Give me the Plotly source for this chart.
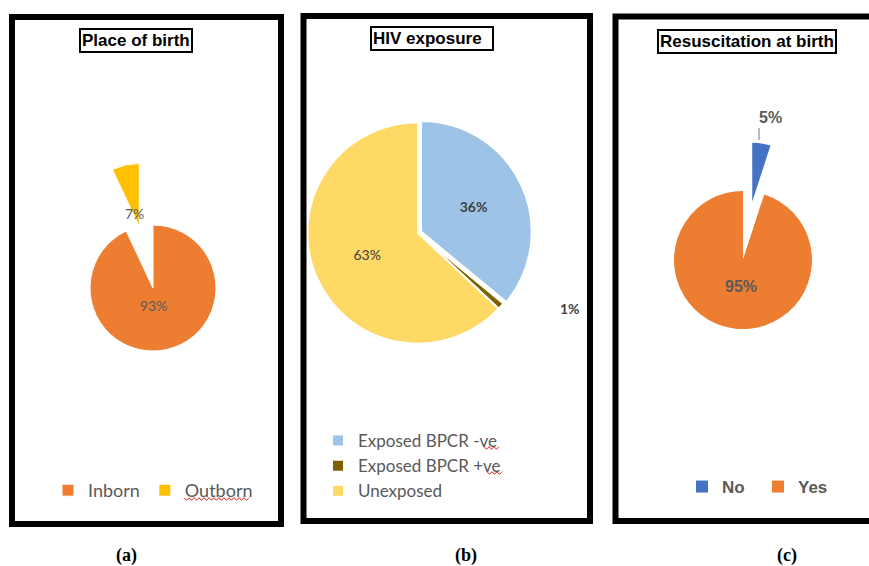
import plotly.graph_objects as go

W, H = 869, 566

# ---- data -------------------------------------------------------------
birth_labels = ["Inborn", "Outborn"]
birth_values = [93, 7]

hiv_labels = ["Exposed BPCR -ve", "Exposed BPCR +ve", "Unexposed"]
hiv_values = [36, 1, 63]

resus_labels = ["No", "Yes"]
resus_values = [5, 95]

panel_titles = ["Place of birth", "HIV exposure", "Resuscitation at birth"]
panel_tags = ["(a)", "(b)", "(c)"]

# ---- style ------------------------------------------------------------
ORANGE = "#ED7D31"
GOLD = "#FFC000"
LIGHT_BLUE = "#9DC3E6"
BROWN = "#7F6000"
LIGHT_GOLD = "#FFD966"
BLUE = "#4472C4"
CLEAR = "rgba(0,0,0,0)"
GREY = "#595959"
DARK = "#404040"
BODY_FONT = "Lato"
HEAD_FONT = "Liberation Sans"


def px(x):
    return x / W


def py(y):
    return 1 - y / H


def square_domain(cx, cy, half):
    return dict(x=[px(cx - half), px(cx + half)], y=[py(cy + half), py(cy - half)])


def label(x, y, text, **font):
    fig.add_annotation(x=px(x), y=py(y), xref="paper", yref="paper", text=text,
                       showarrow=False, xanchor="center", yanchor="middle",
                       font=font)


def squiggle(x0, x1, y, step=2.5, amp=1.3):
    # wavy red underline, like a spell-check mark
    pts, k, x = [], 0, x0
    while x <= x1:
        pts.append((px(x), py(y + (amp if k % 2 else -amp))))
        x += step
        k += 1
    path = "M" + " L".join(f"{a:.5f},{b:.5f}" for a, b in pts)
    fig.add_shape(type="path", path=path, xref="paper", yref="paper",
                  line=dict(color="#E02020", width=1))


fig = go.Figure()

# (a) place of birth: outborn slice pulled right out of the pie
fig.add_trace(go.Pie(
    labels=birth_labels, values=birth_values, sort=False, direction="clockwise",
    rotation=0, pull=[0, 1.0],
    marker=dict(colors=[ORANGE, GOLD], line=dict(color="white", width=1)),
    textinfo="none",
    domain=square_domain(153, 288, 126), legend="legend", hoverinfo="label+percent",
))

# (b) HIV exposure
fig.add_trace(go.Pie(
    labels=hiv_labels, values=hiv_values, sort=False, direction="clockwise",
    rotation=0, pull=[0.03, 0, 0],
    marker=dict(colors=[LIGHT_BLUE, BROWN, LIGHT_GOLD], line=dict(color="white", width=2)),
    texttemplate=["<b>%{value}%</b>", "", "%{value}%"],
    textposition=["inside", "none", "inside"],
    insidetextorientation="horizontal",
    textfont=dict(family=BODY_FONT, size=14, color=DARK),
    domain=square_domain(418, 233, 114), legend="legend2", hoverinfo="label+percent",
))

# (c) resuscitation: the exploded "No" wedge, drawn first and used for the legend
fig.add_trace(go.Pie(
    labels=resus_labels, values=resus_values, sort=False, direction="clockwise",
    rotation=0, pull=[1.0, 0],
    marker=dict(colors=[BLUE, ORANGE], line=dict(width=0)),
    textinfo="none", domain=square_domain(743, 260, 118), legend="legend3",
    hoverinfo="label+percent",
))
# (c) the main pie on top, with the "No" gap left open
fig.add_trace(go.Pie(
    labels=resus_labels, values=resus_values, sort=False, direction="clockwise",
    rotation=0,
    marker=dict(colors=[CLEAR, ORANGE], line=dict(width=0)),
    textinfo="none",
    domain=square_domain(743, 260, 69), showlegend=False, hoverinfo="label+percent",
))

# ---- panel frames -----------------------------------------------------
frames = [(12, 17, 281, 524), (303.5, 16, 590, 521), (615.5, 16.5, 885, 521)]
for x0, y0, x1, y1 in frames:
    fig.add_shape(type="rect", xref="paper", yref="paper",
                  x0=px(x0), x1=px(x1), y0=py(y1), y1=py(y0),
                  line=dict(color="black", width=6), fillcolor="rgba(0,0,0,0)")

# ---- boxed titles -----------------------------------------------------
title_pos = [(135.5, 41), (431.5, 38.5), (746.5, 41.5)]
title_width = [None, 118, None]
for text, (tx, ty), tw in zip(panel_titles, title_pos, title_width):
    fig.add_annotation(
        x=px(tx), y=py(ty), xref="paper", yref="paper", text=f"<b>{text}</b>",
        showarrow=False, xanchor="center", yanchor="middle",
        font=dict(family=HEAD_FONT, size=17, color="black"),
        bordercolor="black", borderwidth=2, borderpad=1, bgcolor="white",
        width=tw, align="left",
    )

# ---- panel tags -------------------------------------------------------
for tag, tx in zip(panel_tags, [126, 466, 787]):
    label(tx, 555, f"<b>{tag}</b>", family="Liberation Serif", size=18, color="black")

# ---- value labels -----------------------------------------------------
label(153, 305, f"{birth_values[0]}%", family=BODY_FONT, size=14, color=GREY)
label(134, 213, f"{birth_values[1]}%", family=BODY_FONT, size=14, color=GREY)
label(570, 308, f"<b>{hiv_values[1]}%</b>", family=BODY_FONT, size=14, color=DARK)
label(741, 286, f"<b>{resus_values[1]}%</b>", family=HEAD_FONT, size=16, color=GREY)
label(770, 117, f"<b>{resus_values[0]}%</b>", family=HEAD_FONT, size=16, color=GREY)
# leader line from the "No" label down to its wedge
fig.add_shape(type="line", xref="paper", yref="paper",
              x0=px(759), x1=px(759), y0=py(128), y1=py(140),
              line=dict(color="#A6A6A6", width=1.5))

# ---- spell-check underlines under legend words ------------------------
squiggle(184, 250, 499)
squiggle(484, 500, 448)
squiggle(487, 503, 473)

# ---- legends ----------------------------------------------------------
fig.update_layout(
    width=W, height=H, margin=dict(l=0, r=0, t=0, b=0),
    paper_bgcolor="white", plot_bgcolor="white",
    legend=dict(orientation="h", x=px(48), y=py(472), xanchor="left", yanchor="top",
                font=dict(family=BODY_FONT, size=18, color=GREY),
                bgcolor="rgba(0,0,0,0)", traceorder="normal"),
    legend2=dict(orientation="v", x=px(318), y=py(423), xanchor="left", yanchor="top",
                 font=dict(family=BODY_FONT, size=17, color=GREY),
                 bgcolor="rgba(0,0,0,0)", traceorder="normal"),
    legend3=dict(orientation="h", x=px(682), y=py(469), xanchor="left", yanchor="top",
                 entrywidth=31, entrywidthmode="pixels",
                 font=dict(family=HEAD_FONT, size=17, color=GREY, weight="bold"),
                 bgcolor="rgba(0,0,0,0)", traceorder="normal"),
)

fig.write_html("out.html")
